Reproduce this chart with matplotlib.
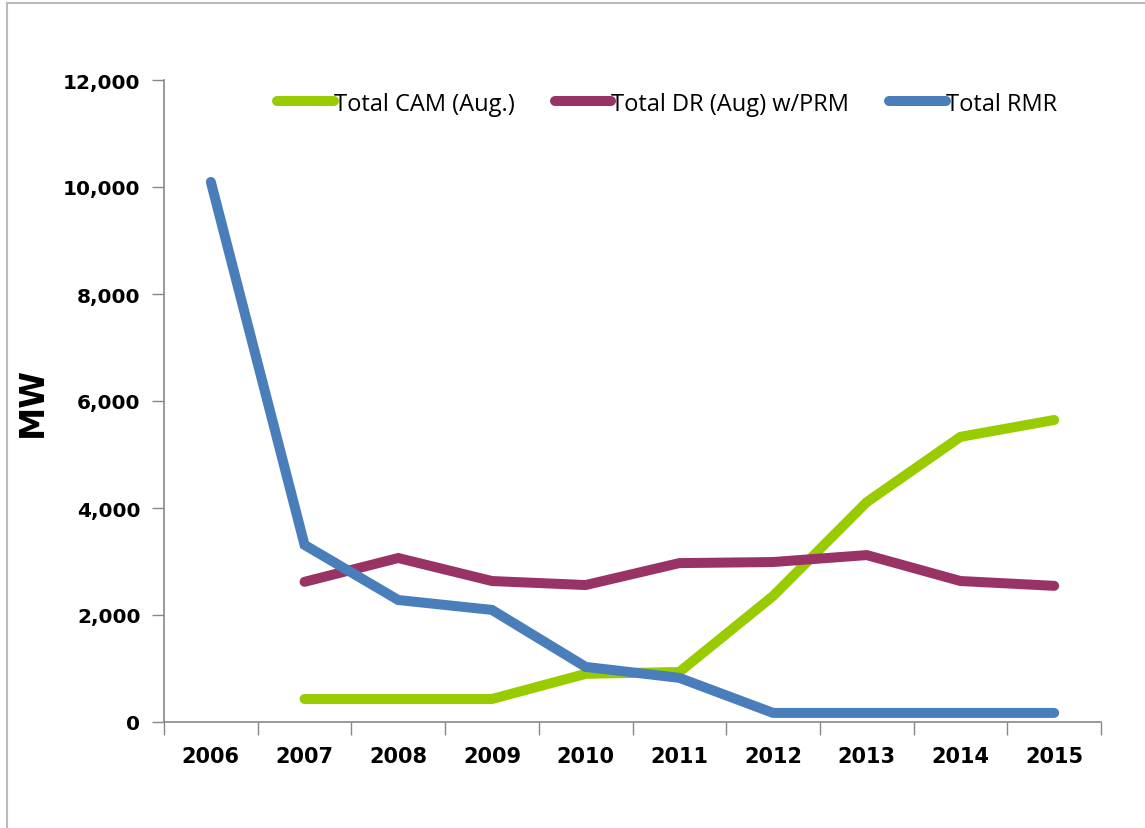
import numpy as np
import matplotlib.pyplot as plt
from matplotlib.lines import Line2D

years = ["2006", "2007", "2008", "2009", "2010", "2011", "2012", "2013", "2014", "2015"]
cam = [np.nan, 430, 430, 430, 900, 935, 2355, 4110, 5330, 5645]
dr = [np.nan, 2620, 3065, 2635, 2560, 2970, 2990, 3120, 2635, 2545]
rmr = [10095, 3310, 2280, 2095, 1030, 825, 170, 170, 170, 170]

series = [
    ("Total CAM (Aug.)", cam, "#99CC00"),
    ("Total DR (Aug) w/PRM", dr, "#993366"),
    ("Total RMR", rmr, "#4A7EBB"),
]

fig = plt.figure(figsize=(11.45, 8.29), dpi=100)
ax = fig.add_axes([164 / 1145, 1 - 723 / 829, (1101 - 164) / 1145, (723 - 81) / 829])

x = np.arange(len(years))
for label, vals, color in series:
    ax.plot(x, vals, color=color, lw=7.2, solid_capstyle="round",
            solid_joinstyle="miter", label=label)

ax.set_xlim(-0.5, len(years) - 0.5)
ax.set_ylim(0, 12000)
ax.set_yticks(range(0, 12001, 2000))
ax.set_yticklabels([f"{v:,}" for v in range(0, 12001, 2000)],
                   fontsize=14.5, fontweight="bold", family="DejaVu Sans")
ax.set_xticks(x)
ax.set_xticklabels(years, fontsize=15, fontweight="bold", family="Liberation Sans Narrow")
ax.set_xticks(np.arange(-0.5, len(years)), minor=True)
ax.tick_params(axis="x", which="major", length=0, pad=17)
ax.tick_params(axis="x", which="minor", length=9, color="#888888", width=1)
ax.tick_params(axis="y", length=9, color="#888888", width=1, pad=8)
for s in ["top", "right"]:
    ax.spines[s].set_visible(False)
for s in ["left", "bottom"]:
    ax.spines[s].set_color("#888888")
    ax.spines[s].set_linewidth(1.2)

ax.set_ylabel("MW", fontsize=24, fontweight="bold", labelpad=10)

handles = [Line2D([0], [0], color=c, lw=7.2, solid_capstyle="round") for _, _, c in series]
ax.legend(handles, [l for l, _, _ in series], loc="center", bbox_to_anchor=(0.537, 0.963),
          ncol=3, frameon=False, handlelength=2.4, handletextpad=0.0,
          columnspacing=1.7, prop={"family": "Open Sans", "size": 17})

# outer frame of the original document
fig.add_artist(plt.Line2D([7 / 1145, 7 / 1145], [0, 1 - 4 / 829], color="#bbbbbb", lw=1.5))
fig.add_artist(plt.Line2D([7 / 1145, 1], [1 - 4 / 829, 1 - 4 / 829], color="#bbbbbb", lw=1.5))

fig.savefig("out.png", dpi=100)
